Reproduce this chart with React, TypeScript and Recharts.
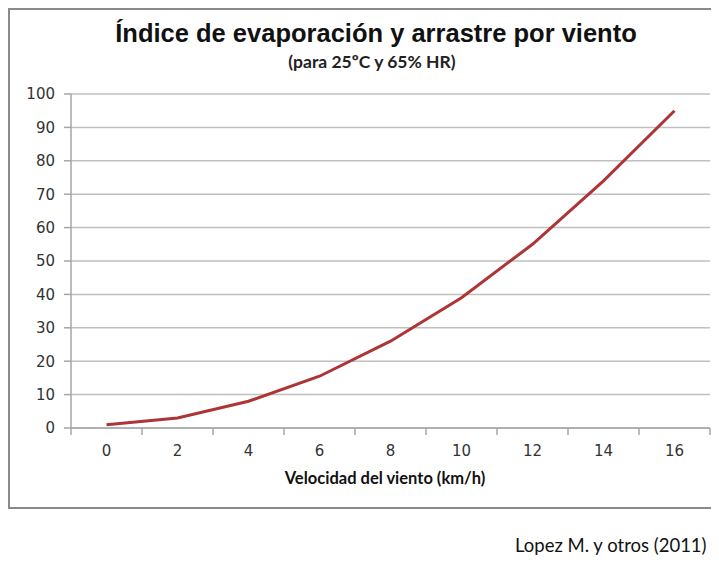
import { LineChart, Line, XAxis, YAxis, CartesianGrid } from "recharts";

const speeds = [0, 2, 4, 6, 8, 10, 12, 14, 16];
const evaporation = [1, 3, 8, 15.5, 26, 39, 55, 74, 95];
const yTicks = [0, 10, 20, 30, 40, 50, 60, 70, 80, 90, 100];

const data = speeds.map((s, i) => ({ speed: s, value: evaporation[i] }));

// tick marks sit between categories (Excel style), labels sit on the categories
const xTicks = [speeds[0] - 1, ...speeds.flatMap((s) => [s, s + 1])];

const XTick = (props: any) => {
  const { x, y, payload } = props;
  if (speeds.includes(payload.value)) {
    return (
      <text
        x={x}
        y={y + 28}
        textAnchor="middle"
        fontSize={15}
        fontFamily="DejaVu Sans"
        fill="#333"
      >
        {payload.value}
      </text>
    );
  }
  return <line x1={x} x2={x} y1={y} y2={y + 7} stroke="#a6a6a6" strokeWidth={1.5} />;
};

export default function App() {
  return (
    <div style={{ position: "relative", width: 711, height: 553, overflow: "hidden" }}>
      <style>{"html, body { overflow: hidden; }"}</style>
      <div
        style={{
          position: "absolute",
          left: 0,
          top: 0,
          width: 730,
          height: 501,
          border: "2px solid #8a8a8a",
          boxSizing: "border-box",
        }}
      />
      <div
        style={{
          position: "absolute",
          left: 368,
          top: 10,
          transform: "translateX(-50%)",
          whiteSpace: "nowrap",
          fontFamily: "Liberation Sans",
          fontWeight: "bold",
          fontSize: 25.5,
          lineHeight: "30px",
          color: "#111",
        }}
      >
        Índice de evaporación y arrastre por viento
      </div>
      <div
        style={{
          position: "absolute",
          left: 364,
          top: 43,
          transform: "translateX(-50%)",
          whiteSpace: "nowrap",
          fontFamily: "Lato",
          fontWeight: "bold",
          fontSize: 17.5,
          lineHeight: "21px",
          color: "#222",
        }}
      >
        (para 25ºC y 65% HR)
      </div>
      <div style={{ position: "absolute", left: 0, top: 0 }}>
        <LineChart
          width={711}
          height={500}
          data={data}
          margin={{ top: 86, right: 9, left: 0, bottom: 50 }}
        >
          <CartesianGrid vertical={false} stroke="#bfbfbf" strokeWidth={1.5} />
          <XAxis
            dataKey="speed"
            type="number"
            domain={[-1, 17]}
            ticks={xTicks}
            interval={0}
            tick={<XTick />}
            tickLine={false}
            tickSize={0}
            tickMargin={0}
            height={30}
            stroke="#a6a6a6"
            strokeWidth={1.5}
          />
          <YAxis
            domain={[0, 100]}
            ticks={yTicks}
            interval={0}
            width={63}
            tickSize={7}
            tickMargin={9}
            stroke="#a6a6a6"
            strokeWidth={1.5}
            tick={{ fontSize: 15, fontFamily: "DejaVu Sans", fill: "#333" }}
          />
          <Line
            type="linear"
            dataKey="value"
            stroke="#ad3535"
            strokeWidth={3}
            dot={false}
            isAnimationActive={false}
          />
        </LineChart>
      </div>
      <div
        style={{
          position: "absolute",
          left: 77,
          width: 600,
          top: 460,
          textAlign: "center",
          whiteSpace: "nowrap",
          fontFamily: "Lato",
          fontWeight: "bold",
          fontSize: 16.5,
          lineHeight: "20px",
          color: "#111",
        }}
      >
        Velocidad del viento (km/h)
      </div>
      <div
        style={{
          position: "absolute",
          left: 507,
          top: 526,
          whiteSpace: "nowrap",
          fontFamily: "Lato",
          fontSize: 18.5,
          lineHeight: "22px",
          color: "#111",
        }}
      >
        Lopez M. y otros (2011)
      </div>
    </div>
  );
}
